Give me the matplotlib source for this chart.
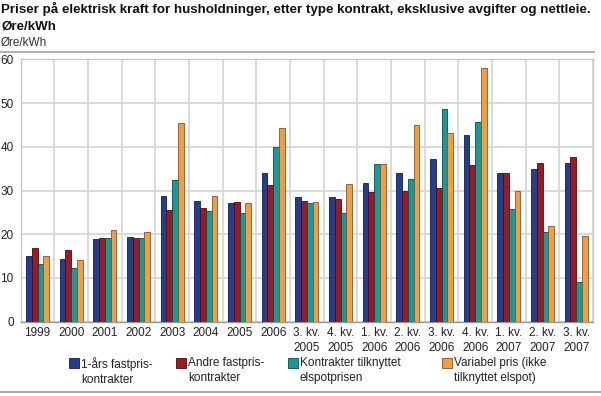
import matplotlib.pyplot as plt
import numpy as np
from matplotlib.patches import Rectangle
from matplotlib.lines import Line2D

plt.rcParams['font.family'] = ['Liberation Sans', 'DejaVu Sans']

periods = ["1999", "2000", "2001", "2002", "2003", "2004", "2005", "2006",
           "3. kv.\n2005", "4. kv.\n2005", "1. kv.\n2006", "2. kv.\n2006",
           "3. kv.\n2006", "4. kv.\n2006", "1. kv.\n2007", "2. kv.\n2007",
           "3. kv.\n2007"]

fastpris_1ar = [15.1, 14.4, 18.9, 19.4, 28.7, 27.7, 27.1, 34.1,
                28.4, 28.4, 31.7, 33.9, 37.2, 42.8, 34.1, 35.0, 36.4]
andre_fastpris = [16.8, 16.5, 19.2, 19.2, 25.5, 26.1, 27.3, 31.3,
                  27.7, 28.0, 29.7, 29.9, 30.6, 35.8, 34.0, 36.4, 37.6]
elspot = [13.1, 12.2, 19.2, 19.2, 32.3, 25.2, 24.8, 40.0,
          27.1, 24.8, 36.1, 32.7, 48.7, 45.7, 25.7, 20.6, 9.0]
variabel = [15.1, 14.1, 20.9, 20.4, 45.4, 28.7, 27.2, 44.2,
            27.3, 31.4, 36.1, 44.9, 43.2, 57.9, 30.0, 21.9, 19.5]

series = [
    ("1-års fastpris-\nkontrakter", fastpris_1ar, "#233d91", "#101c48"),
    ("Andre fastpris-\nkontrakter", andre_fastpris, "#9b1b22", "#4a0c10"),
    ("Kontrakter tilknyttet\nelspotprisen", elspot, "#179b97", "#0b4a48"),
    ("Variabel pris (ikke\ntilknyttet elspot)", variabel, "#f89b3a", "#6e5a45"),
]

W, H = 601, 396
fig = plt.figure(figsize=(W / 100, H / 100), dpi=100)
ax = fig.add_axes([20.7 / W, 1 - 321.7 / H, (593 - 20.7) / W, (321.7 - 59.3) / H])

x = np.arange(len(periods))
bw = 0.172
for k, (name, vals, col, edge) in enumerate(series):
    ax.bar(x + (k - 1.5) * bw, vals, width=bw, color=col, edgecolor=edge,
           linewidth=0.6, zorder=3)

ax.set_xlim(-0.5, len(periods) - 0.5)
ax.set_ylim(0, 60)
ax.set_yticks(range(0, 61, 10))
ax.set_xticks(x)
ax.set_xticklabels(periods, fontsize=8.5, color="#222222", linespacing=1.25)
ax.set_xticks(np.arange(-0.5, len(periods), 1.0), minor=True)
ax.tick_params(axis="both", which="both", length=0)
ax.tick_params(axis="x", pad=4)
ax.tick_params(axis="y", labelsize=8.5, labelcolor="#222222", pad=5)
ax.grid(axis="y", color="#d4d4d4", linewidth=1.2, zorder=0)
ax.grid(axis="x", which="minor", color="#d4d4d4", linewidth=1.2, zorder=0)
for s in ax.spines.values():
    s.set_color("#c8c8c8")
    s.set_linewidth(1.0)
ax.spines["bottom"].set_color("#999999")

fig.text(1 / W, 1 - 2 / H,
         "Priser på elektrisk kraft for husholdninger, etter type kontrakt, eksklusive avgifter og nettleie.\nØre/kWh",
         fontsize=9.6, fontweight="bold", va="top", ha="left", color="#111111", linespacing=1.55)
fig.text(1 / W, 1 - 43 / H, "Øre/kWh", fontsize=8.5, va="center", ha="left", color="#333333")

fig.add_artist(Line2D([0, 594 / W], [1 - 52 / H, 1 - 52 / H], color="#aaaaaa", linewidth=1.3))
fig.add_artist(Line2D([0, 1], [1 - 392 / H, 1 - 392 / H], color="#aaaaaa", linewidth=1.5))

# legend, squares beside the first line of each label
leg_x = [69, 176, 288, 442]
for (name, vals, col, edge), lx in zip(series, leg_x):
    fig.add_artist(Rectangle((lx / W, 1 - 368 / H), 10 / W, 10 / H, facecolor=col,
                             edgecolor=edge, linewidth=0.6))
    fig.text((lx + 12) / W, 1 - 357 / H, name, fontsize=8.5, va="top", ha="left",
             color="#222222", linespacing=1.3)

fig.savefig("out.png", dpi=100)
